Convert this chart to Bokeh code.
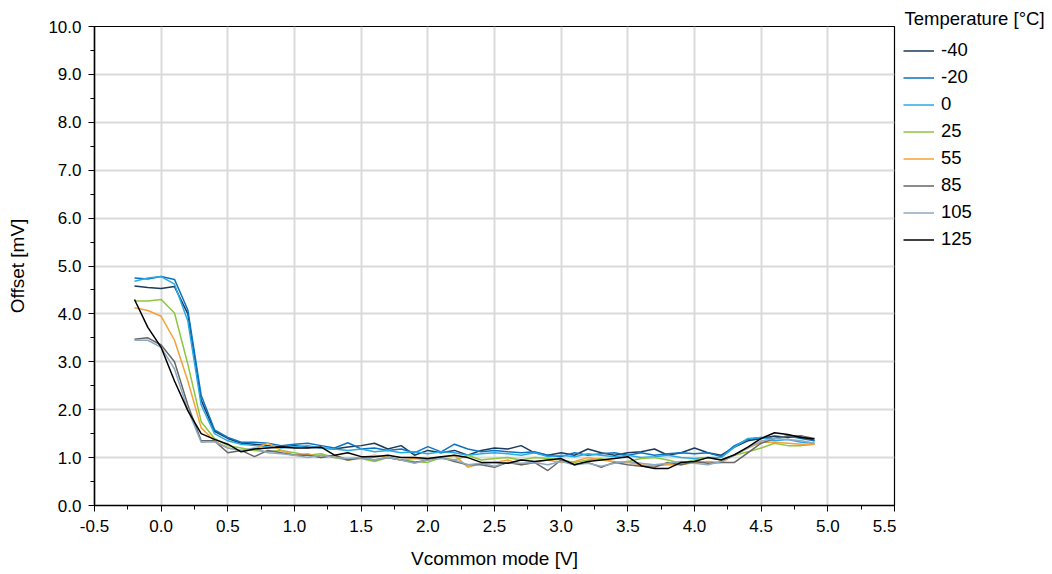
from bokeh.plotting import figure
from bokeh.layouts import row
from bokeh.models import Range1d, SingleIntervalTicker, NumeralTickFormatter, Legend, LegendItem
from bokeh.embed import file_html
from bokeh.resources import INLINE

x_start = -0.2
x_step = 0.1

temps = ["-40", "-20", "0", "25", "55", "85", "105", "125"]
colors = ["#1b3a5c", "#0a73c2", "#2aaae2", "#8dc63f", "#f7a035", "#666666", "#8ea9c0", "#000000"]

t_m40 = [4.58, 4.55, 4.53, 4.57, 4.00, 2.20, 1.55, 1.40, 1.30, 1.28,
         1.25, 1.22, 1.25, 1.22, 1.20, 1.18, 1.22, 1.25, 1.30, 1.18,
         1.25, 1.05, 1.15, 1.10, 1.15, 1.05, 1.15, 1.20, 1.18, 1.25,
         1.10, 1.05, 1.10, 1.05, 1.18, 1.10, 1.05, 1.10, 1.12, 1.18,
         1.05, 1.10, 1.20, 1.10, 1.05, 1.22, 1.35, 1.40, 1.45, 1.42,
         1.45, 1.35]
t_m20 = [4.75, 4.73, 4.78, 4.72, 4.08, 2.30, 1.58, 1.42, 1.32, 1.32,
         1.30, 1.25, 1.28, 1.30, 1.25, 1.20, 1.31, 1.18, 1.20, 1.15,
         1.18, 1.10, 1.23, 1.12, 1.28, 1.18, 1.12, 1.15, 1.12, 1.10,
         1.12, 1.05, 1.02, 1.10, 1.05, 1.08, 1.10, 1.05, 1.10, 1.05,
         1.08, 1.10, 1.08, 1.10, 1.02, 1.25, 1.38, 1.42, 1.40, 1.45,
         1.40, 1.35]
t_0 = [4.68, 4.75, 4.78, 4.62, 3.85, 2.10, 1.50, 1.35, 1.28, 1.25,
       1.22, 1.20, 1.22, 1.25, 1.20, 1.18, 1.15, 1.18, 1.12, 1.15,
       1.10, 1.12, 1.08, 1.12, 1.10, 1.05, 1.08, 1.10, 1.08, 1.05,
       1.10, 1.02, 1.05, 1.02, 1.08, 1.05, 1.02, 1.05, 1.00, 1.02,
       1.05, 1.00, 0.98, 1.00, 1.00, 1.22, 1.40, 1.42, 1.35, 1.38,
       1.32, 1.30]
t_25 = [4.27, 4.27, 4.30, 4.02, 2.95, 1.75, 1.40, 1.25, 1.20, 1.15,
        1.12, 1.15, 1.10, 1.05, 1.08, 1.00, 0.95, 0.98, 0.92, 1.00,
        0.95, 0.92, 0.90, 1.00, 0.95, 1.05, 0.95, 0.98, 1.00, 0.95,
        1.00, 0.98, 0.95, 0.90, 0.95, 0.98, 0.90, 0.92, 0.98, 1.00,
        0.95, 0.88, 0.95, 1.00, 0.95, 1.05, 1.12, 1.20, 1.30, 1.25,
        1.25, 1.28]
t_55 = [4.13, 4.07, 3.95, 3.45, 2.60, 1.62, 1.35, 1.20, 1.15, 1.18,
        1.30, 1.15, 1.05, 1.08, 1.00, 1.05, 0.95, 1.00, 1.05, 1.00,
        0.95, 0.98, 0.95, 1.00, 1.05, 0.80, 0.88, 0.90, 0.95, 0.85,
        0.90, 0.95, 0.90, 0.92, 1.00, 0.95, 0.92, 0.90, 0.85, 0.83,
        0.85, 0.85, 0.90, 0.92, 0.90, 1.05, 1.20, 1.32, 1.32, 1.30,
        1.28, 1.28]
t_85 = [3.47, 3.50, 3.35, 3.00, 2.10, 1.35, 1.35, 1.10, 1.15, 1.02,
        1.15, 1.10, 1.05, 1.05, 1.00, 1.05, 0.95, 1.00, 0.95, 1.00,
        0.95, 0.90, 0.95, 1.00, 0.92, 0.85, 0.85, 0.80, 0.90, 0.85,
        0.90, 0.73, 0.95, 0.85, 0.90, 0.80, 0.90, 0.85, 0.82, 0.80,
        0.90, 0.85, 0.92, 0.88, 0.90, 0.90, 1.10, 1.30, 1.40, 1.45,
        1.45, 1.40]
t_105 = [3.45, 3.45, 3.30, 2.85, 2.00, 1.32, 1.33, 1.20, 1.15, 1.20,
         1.10, 1.08, 1.05, 1.00, 1.05, 1.00, 0.98, 1.00, 0.95, 1.00,
         0.95, 0.88, 0.95, 0.98, 0.95, 0.85, 0.88, 0.82, 0.90, 0.88,
         0.90, 0.85, 0.92, 0.85, 0.88, 0.82, 0.88, 0.92, 0.88, 0.85,
         0.88, 0.92, 0.88, 0.85, 0.92, 1.05, 1.20, 1.35, 1.40, 1.38,
         1.35, 1.30]
t_125 = [4.30, 3.72, 3.30, 2.60, 1.98, 1.50, 1.38, 1.28, 1.12, 1.18,
         1.20, 1.22, 1.20, 1.20, 1.22, 1.05, 1.10, 1.02, 1.02, 1.05,
         1.00, 1.00, 0.98, 1.02, 1.05, 1.00, 0.90, 0.90, 0.88, 0.95,
         0.92, 0.95, 0.98, 0.85, 0.92, 0.95, 0.98, 1.02, 0.83, 0.77,
         0.77, 0.90, 0.92, 1.00, 0.95, 1.06, 1.22, 1.40, 1.52, 1.48,
         1.42, 1.39]

series = [t_m40, t_m20, t_0, t_25, t_55, t_85, t_105, t_125]

FONT = "Liberation Sans"

p = figure(width=896, height=572, output_backend="svg", toolbar_location=None,
           x_range=Range1d(-0.5, 5.5), y_range=Range1d(0, 10),
           min_border_left=94, min_border_right=2, min_border_top=26, min_border_bottom=67)

for name, col, vals in zip(temps, colors, series):
    xs = [round(x_start + x_step * i, 2) for i in range(len(vals))]
    p.line(xs, vals, line_color=col, line_width=1.5)

p.outline_line_color = "black"
p.outline_line_width = 1.2
p.background_fill_color = "white"
p.border_fill_color = "white"

p.xaxis.ticker = SingleIntervalTicker(interval=0.5, num_minor_ticks=2)
p.yaxis.ticker = SingleIntervalTicker(interval=1.0, num_minor_ticks=2)
p.xaxis.formatter = NumeralTickFormatter(format="0.0")
p.yaxis.formatter = NumeralTickFormatter(format="0.0")

for ax in (p.xaxis[0], p.yaxis[0]):
    ax.axis_line_color = "black"
    ax.axis_line_width = 1.5
    ax.major_tick_line_color = "black"
    ax.minor_tick_line_color = "black"
    ax.major_tick_out = 6
    ax.major_tick_in = 0
    ax.minor_tick_out = 4
    ax.minor_tick_in = 0
    ax.major_label_text_font = FONT
    ax.major_label_text_font_size = "17px"
    ax.major_label_text_color = "black"
    ax.axis_label_text_font = FONT
    ax.axis_label_text_font_size = "19px"
    ax.axis_label_text_font_style = "normal"
    ax.axis_label_text_color = "black"

p.xaxis.axis_label = "Vcommon mode [V]"
p.yaxis.axis_label = "Offset [mV]"
p.xaxis.major_label_standoff = 8
p.yaxis.major_label_standoff = 7
p.xaxis.axis_label_standoff = 13
p.yaxis.axis_label_standoff = 17

p.xgrid.grid_line_color = "#dadada"
p.ygrid.grid_line_color = "#dadada"
p.xgrid.grid_line_width = 2
p.ygrid.grid_line_width = 2

# legend panel (its own small figure to the right of the chart)
p2 = figure(width=156, height=572, output_backend="svg", toolbar_location=None,
            x_axis_type=None, y_axis_type=None,
            x_range=Range1d(100, 101), y_range=Range1d(100, 101),
            min_border_left=0, min_border_right=0, min_border_top=0, min_border_bottom=0)
p2.outline_line_color = None
p2.xgrid.visible = False
p2.ygrid.visible = False
p2.title.text = "Temperature [°C]"
p2.title.text_font = FONT
p2.title.text_font_size = "18.5px"
p2.title.text_font_style = "normal"
p2.title.text_color = "black"
p2.title.align = "left"
p2.title.offset = 8
p2.title.standoff = -5

items = []
for name, col, vals in zip(temps, colors, series):
    xs = [round(x_start + x_step * i, 2) for i in range(len(vals))]
    r = p2.line(xs, vals, line_color=col, line_width=1.5)
    items.append(LegendItem(label=name, renderers=[r]))

legend = Legend(items=items, location=(7, 255))
legend.label_text_font = FONT
legend.label_text_font_size = "18.5px"
legend.label_text_color = "black"
legend.glyph_width = 31
legend.glyph_height = 21
legend.label_height = 21
legend.label_standoff = 7
legend.spacing = 5
legend.padding = 0
legend.margin = 0
legend.border_line_color = None
legend.background_fill_alpha = 0
p2.add_layout(legend, "center")

layout = row(p, p2)

open("out.html", "w").write(file_html(layout, INLINE))
